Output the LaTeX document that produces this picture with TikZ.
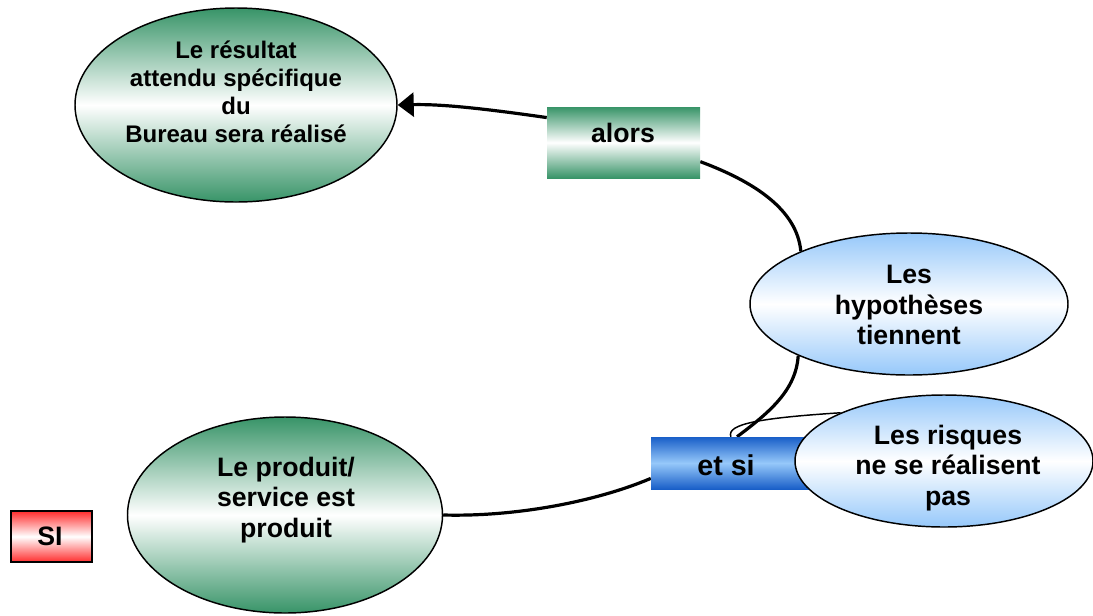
\documentclass[tikz,border=0pt]{standalone}
\usepackage{fontspec}
\setmainfont{Liberation Sans}
\usetikzlibrary{shapes.geometric,arrows.meta,backgrounds}
\definecolor{grn}{RGB}{56,148,104}
\definecolor{lblue}{RGB}{150,200,250}
\definecolor{dblue}{RGB}{25,95,200}
\definecolor{redA}{RGB}{255,45,45}
\begin{document}
\begin{tikzpicture}[x=0.75pt,y=-0.75pt,
  oval/.style={ellipse, draw=black, line width=1.1pt, inner sep=0pt},
  greenfill/.style={top color=grn, bottom color=grn, middle color=white},
  bluefill/.style={top color=lblue, bottom color=lblue, middle color=white},
  boxA/.style={rectangle, inner sep=0pt},
  txtA/.style={font=\bfseries\fontsize{18}{21}\selectfont, align=center, inner sep=0pt},
  txtB/.style={font=\bfseries\fontsize{20}{23}\selectfont, align=center, inner sep=0pt},
  conn/.style={line width=2.4pt},
  thinconn/.style={line width=1.1pt}]
\useasboundingbox (0,0) rectangle (1093,615);

% nodes
\node[oval, greenfill, minimum width=241.5pt, minimum height=145.5pt] (res) at (236,105) {};
\node[txtA] (resT) at (236,92) {Le résultat\\attendu spécifique\\du\\Bureau sera réalisé};

\node[boxA, minimum width=114.75pt, minimum height=53.25pt, top color=grn, bottom color=grn, middle color=white] (alors) at (623.5,142.5) {};
\node[txtB] (alorsT) at (623,133) {alors};

\node[oval, bluefill, minimum width=238.5pt, minimum height=106.5pt] (hyp) at (909,304) {};
\node[txtB] (hypT) at (909,305) {Les\\hypothèses\\tiennent};

\node[boxA, minimum width=118.5pt, minimum height=39pt, top color=dblue, bottom color=dblue, middle color=lblue] (etsi) at (730,463) {};
\node[txtB, font=\bfseries\fontsize{21.5}{24}\selectfont] (etsiT) at (726,465) {et si};

\node[oval, bluefill, minimum width=223.5pt, minimum height=99pt] (risq) at (944,461) {};
\node[txtB] (risqT) at (948,468) {Les risques\\ne se réalisent\\pas};

\node[oval, greenfill, minimum width=236.25pt, minimum height=147pt] (prod) at (285,515) {};
\node[txtB] (prodT) at (286,500) {Le produit/\\service est\\produit};

\node[boxA, draw=black, line width=1.5pt, minimum width=60.75pt, minimum height=38.25pt, top color=redA, bottom color=redA, middle color=white] (si) at (51.5,536.5) {};
\node[txtB, font=\bfseries\fontsize{20}{23}\selectfont] (siT) at (50,536) {SI};

% connectors
\begin{pgfonlayer}{background}
\draw[conn, -{Triangle[length=12pt,width=18pt]}] (alors.162) .. controls (480,108) and (440,104) .. (res.east);
\draw[conn] (alors.-14) .. controls (755,182) and (797,210) .. (hyp.154);
\draw[conn] (hyp.205) .. controls (796,390) and (770,412) .. (etsi.75);
\draw[thinconn] (etsi.88) .. controls (726,424) and (760,418) .. (risq.155);
\draw[conn] (prod.east) .. controls (520,517) and (600,500) .. (etsi.191);
\end{pgfonlayer}
\end{tikzpicture}
\end{document}
